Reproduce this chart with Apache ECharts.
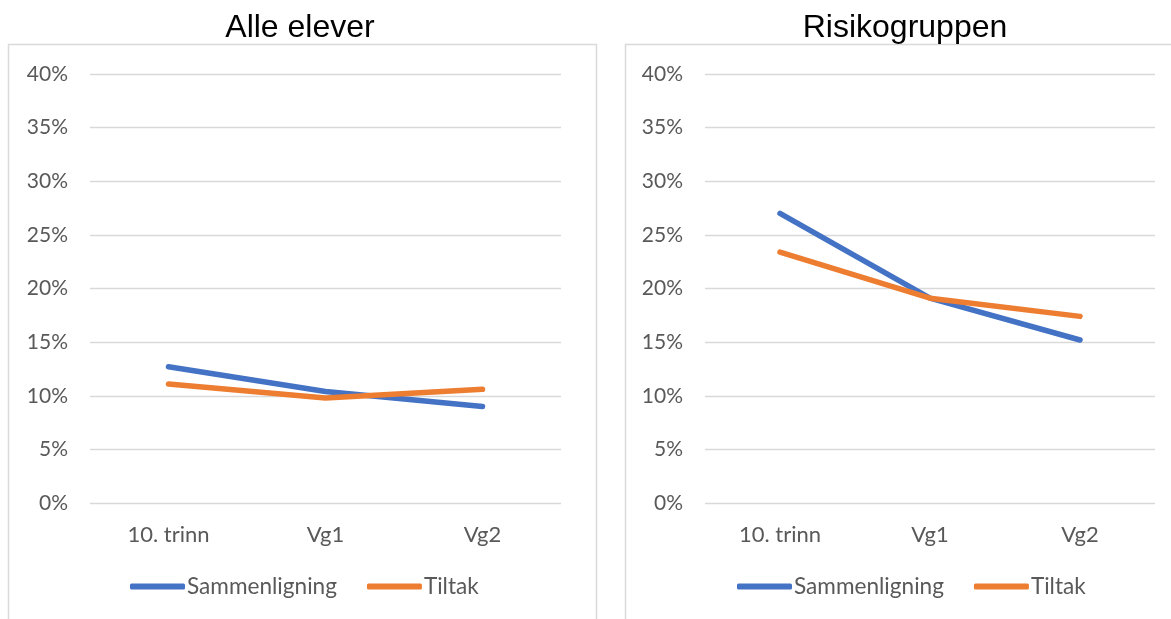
<!DOCTYPE html>
<html>
<head>
<meta charset="utf-8">
<script src="https://cdn.jsdelivr.net/npm/echarts@6/dist/echarts.min.js"></script>
<style>
  html, body { margin: 0; padding: 0; background: #fff; }
  #chart { width: 1171px; height: 619px; }
</style>
</head>
<body>
<div id="chart"></div>
<script>
// Categories and values (percent)
const categories = ['10. trinn', 'Vg1', 'Vg2'];
const panelTitles = ['Alle elever', 'Risikogruppen'];
const seriesNames = ['Sammenligning', 'Tiltak'];
const alleSammenligning = [12.7, 10.4, 9.0];
const alleTiltak = [11.1, 9.8, 10.6];
const risikoSammenligning = [27.0, 19.1, 15.2];
const risikoTiltak = [23.4, 19.1, 17.4];
const yTicks = { min: 0, max: 40, interval: 5 };

const colors = ['#4472C4', '#ED7D31'];
const labelFont = 'Lato, "Open Sans", sans-serif';
const textColor = '#595959';

function xAxisFor(gridIndex) {
  return {
    type: 'category', gridIndex, data: categories, boundaryGap: true,
    axisLine: { show: false }, axisTick: { show: false },
    axisLabel: { margin: 21, color: textColor, fontSize: 22, fontFamily: labelFont }
  };
}
function yAxisFor(gridIndex) {
  return {
    type: 'value', gridIndex, min: yTicks.min, max: yTicks.max, interval: yTicks.interval,
    axisLine: { show: false }, axisTick: { show: false },
    axisLabel: { margin: 22, formatter: '{value}%', color: textColor, fontSize: 21, fontFamily: labelFont },
    splitLine: { lineStyle: { color: '#D9D9D9', width: 1.3 } }
  };
}
function lineSeries(name, data, idx, color) {
  return {
    name, type: 'line', data, xAxisIndex: idx, yAxisIndex: idx,
    symbol: 'none', silent: true,
    lineStyle: { color, width: 5.5, cap: 'round' },
    itemStyle: { color }
  };
}
function legendFor(left) {
  return {
    data: seriesNames, top: 575, left, padding: 0,
    textStyle: { color: textColor, fontSize: 22.6, fontFamily: labelFont, padding: [0, 0, 0, -3] },
    icon: 'roundRect', itemWidth: 55, itemHeight: 6, itemGap: 30, selectedMode: false
  };
}
const titleStyle = { fontFamily: '"Liberation Sans", Arial, sans-serif', fontWeight: 'normal', fontSize: 32, color: '#000' };

const chart = echarts.init(document.getElementById('chart'), null, { renderer: 'canvas' });
chart.setOption({
  animation: false,
  color: colors,
  title: [
    { text: panelTitles[0], left: 300, top: 12, padding: 0, textAlign: 'center', textStyle: titleStyle },
    { text: panelTitles[1], left: 905, top: 12, padding: 0, textAlign: 'center', textStyle: titleStyle }
  ],
  graphic: [
    { type: 'rect', shape: { x: 8.5, y: 44.5, width: 588, height: 600 }, style: { fill: 'none', stroke: '#D9D9D9', lineWidth: 1.5 }, z: -1 },
    { type: 'rect', shape: { x: 625.5, y: 44.5, width: 600, height: 600 }, style: { fill: 'none', stroke: '#D9D9D9', lineWidth: 1.5 }, z: -1 }
  ],
  legend: [legendFor(130), legendFor(737)],
  grid: [
    { left: 90, right: 610, top: 74, bottom: 116 },
    { left: 705, right: 16, top: 74, bottom: 116 }
  ],
  xAxis: [xAxisFor(0), xAxisFor(1)],
  yAxis: [yAxisFor(0), yAxisFor(1)],
  series: [
    lineSeries(seriesNames[0], alleSammenligning, 0, colors[0]),
    lineSeries(seriesNames[1], alleTiltak, 0, colors[1]),
    lineSeries(seriesNames[0], risikoSammenligning, 1, colors[0]),
    lineSeries(seriesNames[1], risikoTiltak, 1, colors[1])
  ]
});
</script>
</body>
</html>
